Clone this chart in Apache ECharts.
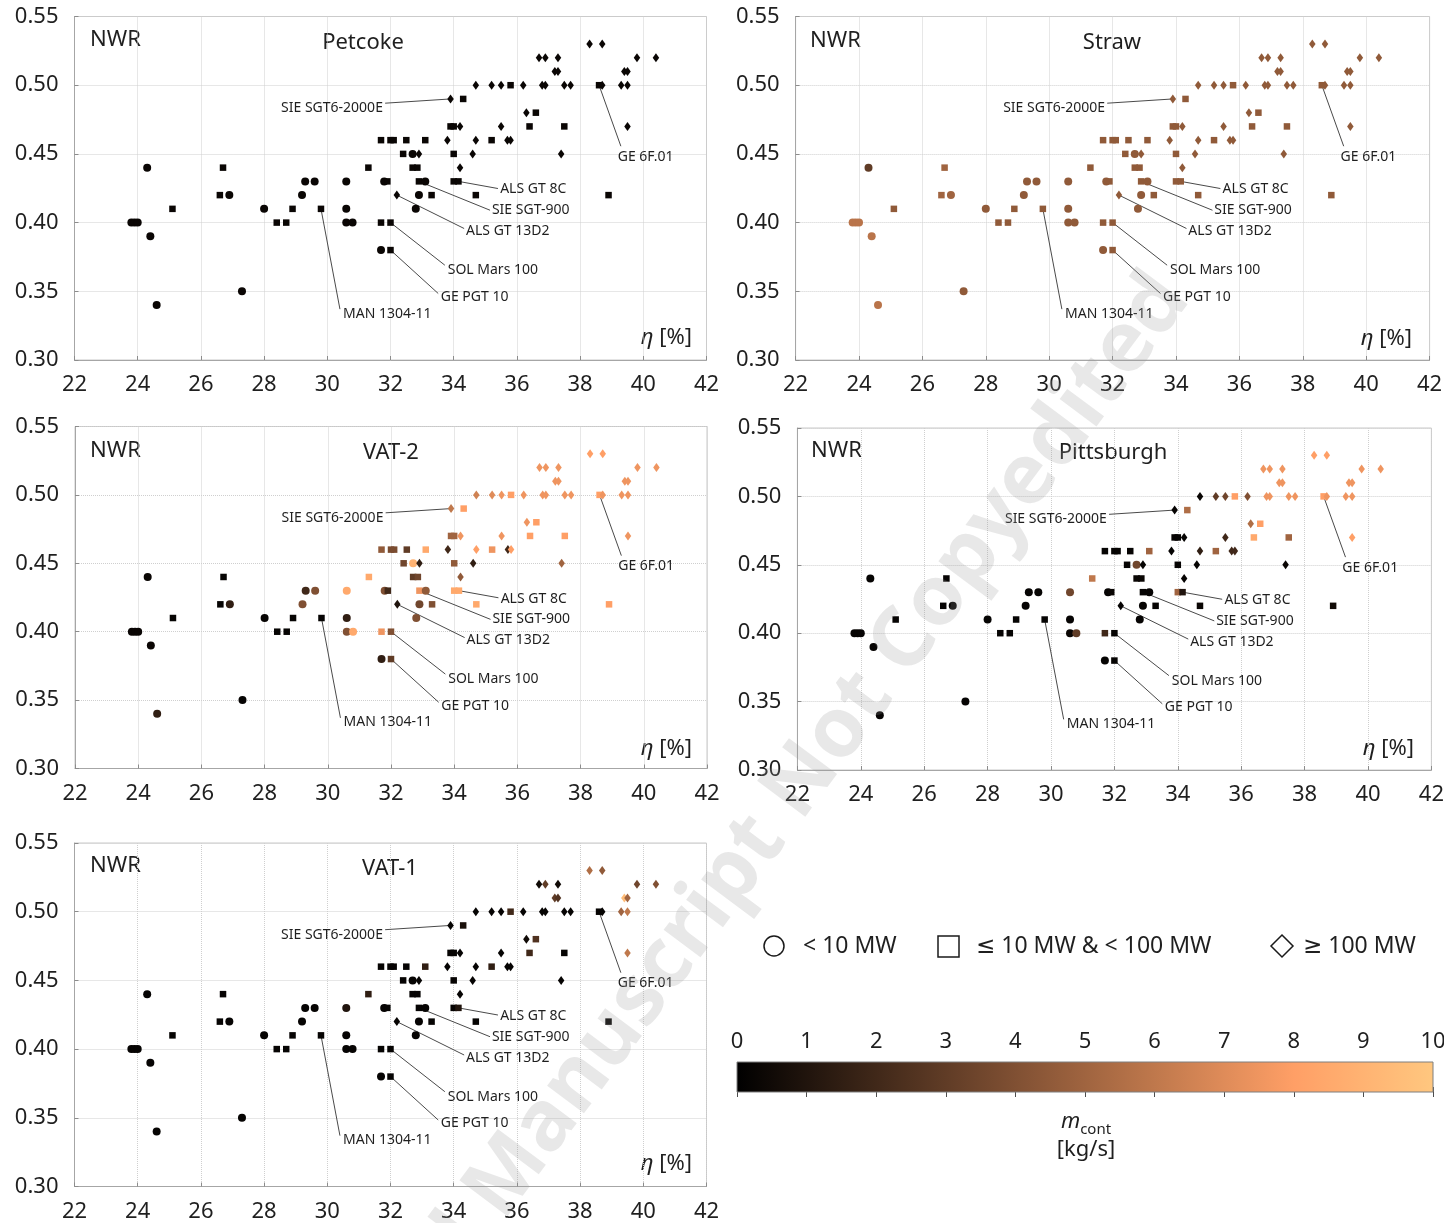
<!DOCTYPE html>
<html>
<head>
<meta charset="utf-8">
<script src="https://cdn.jsdelivr.net/npm/echarts@6/dist/echarts.min.js"></script>
<style>html,body{margin:0;padding:0;background:#fff}#main{width:1444px;height:1223px}</style>
</head>
<body>
<div id="main"></div>
<script>
// ---------------- DATA ----------------
const panelNames = ['Petcoke', 'Straw', 'VAT-2', 'Pittsburgh', 'VAT-1'];
const xTicks = [22, 24, 26, 28, 30, 32, 34, 36, 38, 40, 42];
const yTicks = [0.30, 0.35, 0.40, 0.45, 0.50, 0.55];
const colorbarTicks = [0, 1, 2, 3, 4, 5, 6, 7, 8, 9, 10];

// efficiency eta [%]
const eta = [23.8,23.9,24.0,24.3,24.4,24.6,25.1,26.7,26.6,26.9,
  27.3,28.0,28.4,28.7,28.9,29.2,29.3,29.6,29.8,30.6,
  30.6,30.6,30.8,31.3,31.7,32.0,32.1,32.5,33.1,31.8,
  31.9,32.2,31.7,32.0,31.7,32.0,32.4,32.7,32.9,32.7,
  32.85,32.9,33.1,32.9,33.3,32.8,33.8,33.9,34.0,34.2,
  33.9,34.3,34.0,34.2,34.0,34.15,34.7,34.6,34.7,35.2,
  35.7,35.8,35.5,36.4,36.3,36.6,37.5,37.4,38.9,39.5,
  34.7,35.2,35.5,35.8,36.2,36.8,36.9,37.5,37.7,38.6,
  38.7,39.3,39.5,37.2,37.3,39.4,39.5,36.7,36.9,37.3,
  39.8,40.4,38.3,38.7];
// NWR
const nwr = [0.40,0.40,0.40,0.44,0.39,0.34,0.41,0.44,0.42,0.42,
  0.35,0.41,0.40,0.40,0.41,0.42,0.43,0.43,0.41,0.43,
  0.41,0.40,0.40,0.44,0.46,0.46,0.46,0.46,0.46,0.43,
  0.43,0.42,0.40,0.40,0.38,0.38,0.45,0.45,0.45,0.44,
  0.44,0.43,0.43,0.42,0.42,0.41,0.46,0.47,0.47,0.47,
  0.49,0.49,0.45,0.44,0.43,0.43,0.42,0.45,0.46,0.46,
  0.46,0.46,0.47,0.47,0.48,0.48,0.47,0.45,0.42,0.47,
  0.50,0.50,0.50,0.50,0.50,0.50,0.50,0.50,0.50,0.50,
  0.50,0.50,0.50,0.51,0.51,0.51,0.51,0.52,0.52,0.52,
  0.52,0.52,0.53,0.53];
// power class: S = < 10 MW, M = 10..100 MW, L = >= 100 MW
const sizeClass = ['S','S','S','S','S','S','M','M','M','S',
  'S','S','M','M','M','S','S','S','M','S',
  'S','S','S','M','M','M','M','M','M','S',
  'M','L','M','M','S','M','M','S','L','M',
  'M','M','S','S','M','S','L','M','M','L',
  'L','M','M','L','M','M','M','L','L','M',
  'L','L','L','M','L','M','M','L','M','L',
  'L','L','L','M','L','L','L','L','L','M',
  'L','L','L','L','L','L','L','L','L','L',
  'L','L','L','L'];

// m_cont [kg/s] for each fuel
const mPetcoke = [0.3,0.3,0.3,0.3,0.3,0.3,0.3,0.3,0.3,0.3,
  0.3,0.3,0.3,0.3,0.3,0.3,0.3,0.3,0.3,0.3,
  0.3,0.3,0.3,0.3,0.3,0.3,0.3,0.3,0.3,0.3,
  0.3,0.3,0.3,0.3,0.3,0.3,0.3,0.3,0.3,0.3,
  0.3,0.3,0.3,0.3,0.3,0.3,0.3,0.3,0.3,0.3,
  0.3,0.3,0.3,0.3,0.3,0.3,0.3,0.3,0.3,0.3,
  0.3,0.3,0.3,0.3,0.3,0.3,0.3,0.3,0.3,0.3,
  0.3,0.3,0.3,0.3,0.3,0.3,0.3,0.3,0.3,0.3,
  0.3,0.3,0.3,0.3,0.3,0.3,0.3,0.3,0.3,0.3,
  0.3,0.3,0.3,0.3];
const mStraw = [5.8,5.8,5.8,3.0,5.8,5.8,4.5,5.0,5.0,5.0,
  4.5,4.5,4.5,4.5,4.5,4.5,4.5,4.5,4.5,4.5,
  4.5,4.5,4.5,4.5,4.5,4.5,4.5,4.5,4.5,4.5,
  4.5,4.5,4.5,4.5,4.5,4.5,4.5,4.5,4.5,4.5,
  4.5,4.5,4.5,4.5,4.5,4.5,4.5,4.5,4.5,4.5,
  4.5,4.5,4.5,4.5,4.5,4.5,4.5,4.5,4.5,4.5,
  4.5,4.5,4.5,4.5,4.5,4.5,4.5,4.5,4.5,4.5,
  4.5,4.5,4.5,4.5,4.5,4.5,4.5,4.5,4.5,4.5,
  4.5,4.5,4.5,4.5,4.5,4.5,4.5,4.5,4.5,4.5,
  4.5,4.5,4.5,4.5];
const mVAT2 = [0.3,0.3,0.3,0.3,0.3,1.5,0.2,0.2,0.2,1.5,
  0.2,0.2,0.2,0.2,0.2,4.0,2.0,4.0,0.2,8.5,
  1.5,4.0,8.5,8.5,4.5,3.8,3.8,3.0,8.5,4.0,
  2.0,1.0,7.5,4.0,1.5,3.0,3.5,9.0,1.5,3.0,
  3.5,7.5,4.5,3.5,4.0,4.0,2.0,5.0,5.0,7.5,
  6.0,8.0,4.5,4.5,8.5,8.5,8.5,1.5,8.0,7.5,
  2.0,8.0,7.5,8.0,7.5,8.0,8.0,5.0,8.0,7.5,
  6.5,7.0,7.5,8.0,7.5,7.5,7.5,7.5,7.5,8.0,
  7.5,7.5,7.5,7.5,7.5,7.5,7.5,7.5,7.5,7.5,
  7.5,7.5,8.0,8.0];
const mPittsburgh = [0.2,0.2,0.2,0.2,0.2,0.2,0.2,0.2,0.2,0.2,
  0.2,0.2,0.2,0.2,0.2,0.2,0.2,0.2,0.2,3.5,
  0.2,0.3,3.0,6.0,0.2,0.2,0.2,0.2,5.0,0.2,
  0.3,0.2,2.0,0.2,0.2,0.2,0.2,3.5,0.2,0.3,
  0.3,0.2,0.2,0.2,0.2,0.2,0.2,0.2,0.2,0.2,
  0.2,5.5,0.2,0.2,5.0,1.0,0.3,0.2,1.5,5.0,
  2.0,2.0,2.0,8.5,5.5,8.0,5.0,0.3,0.5,8.0,
  0.3,3.0,3.5,8.0,4.0,7.5,7.5,7.5,7.5,8.0,
  7.5,7.5,7.5,7.5,7.5,7.5,7.5,7.5,7.5,7.5,
  7.5,7.5,8.0,8.0];
const mVAT1 = [0.2,0.2,0.2,0.2,0.2,0.2,0.2,0.2,0.2,0.2,
  0.2,0.2,0.2,0.2,0.2,0.2,0.2,0.2,0.2,1.0,
  0.2,0.2,0.2,1.5,0.2,0.2,0.2,0.2,1.5,0.2,
  0.2,0.2,0.2,0.2,0.2,0.2,0.2,0.2,0.2,0.2,
  0.2,0.2,0.2,0.2,0.2,0.2,0.2,0.2,0.2,0.2,
  0.2,0.8,0.2,0.2,0.2,1.0,0.2,0.2,0.2,1.5,
  0.2,0.2,0.2,2.0,0.5,2.5,0.2,0.2,0.2,6.0,
  0.2,0.2,0.2,2.0,0.2,0.2,0.2,0.2,0.2,0.2,
  0.2,5.0,6.0,3.0,2.5,9.5,5.0,0.5,3.0,0.5,
  3.5,4.0,5.5,4.5];
const mByPanel = [mPetcoke, mStraw, mVAT2, mPittsburgh, mVAT1];

// labelled turbines (index into the point arrays) and label anchors in data units
const annNames = ['SIE SGT6-2000E', 'GE 6F.01', 'ALS GT 8C', 'SIE SGT-900', 'ALS GT 13D2', 'SOL Mars 100', 'GE PGT 10', 'MAN 1304-11'];
const annPoint = [50, 79, 55, 41, 31, 33, 35, 18];
const annEndX  = [31.83, 39.29, 35.40, 35.15, 34.33, 33.72, 33.51, 30.40];
const annEndY  = [0.4869, 0.4556, 0.4248, 0.4090, 0.3957, 0.3690, 0.3484, 0.3370];
const annTextX = [31.76, 39.19, 35.47, 35.21, 34.39, 33.81, 33.59, 30.50];
const annTextY = [0.4833, 0.4478, 0.4241, 0.4090, 0.3937, 0.3654, 0.3460, 0.3338];
const annAlign = ['right', 'left', 'left', 'left', 'left', 'left', 'left', 'left'];

const legendLabels = ['< 10 MW', '\u2264 10 MW & < 100 MW', '\u2265 100 MW'];

// ---------------- STYLE / LAYOUT ----------------
const FONT = '"Noto Sans", "DejaVu Sans", sans-serif';
const TXT = '#1f1f1f';
const copperColors = ['#000000', '#402819', '#805033', '#bf784c', '#ff9f66', '#ffc77f'];
const symbolFor = { S: 'circle', M: 'rect', L: 'diamond' };
const sizeFor = { S: 8, M: 6.5, L: [6.5, 9] };

const grids = [
  { left: 74.5, top: 16.5, width: 632, height: 343.5 },
  { left: 795.6, top: 16.5, width: 634, height: 343.5 },
  { left: 75, top: 426.5, width: 632, height: 342 },
  { left: 797.4, top: 428, width: 634, height: 342 },
  { left: 74.5, top: 843, width: 632, height: 343.5 }
];
const panelText = [
  { nwr: [90, 40], title: [363, 43], eta: [692, 338] },
  { nwr: [810, 41], title: [1112, 43], eta: [1412, 339] },
  { nwr: [90, 451], title: [391, 453], eta: [692, 749] },
  { nwr: [811, 451], title: [1113, 453], eta: [1414, 749] },
  { nwr: [90, 866], title: [390, 869], eta: [692, 1164] }
];

const gridOpts = grids.map(g => Object.assign({ show: true, borderColor: '#c8c8c8', borderWidth: 1, backgroundColor: 'transparent', containLabel: false, outerBoundsMode: 'none' }, g));
gridOpts.push({ left: 737, top: 1062, width: 696, height: 30, show: false, containLabel: false, outerBoundsMode: 'none' });

const xAxes = grids.map((g, i) => ({
  type: 'value', gridIndex: i, min: xTicks[0], max: xTicks[xTicks.length - 1], interval: xTicks[1] - xTicks[0],
  axisLine: { show: true, onZero: false, lineStyle: { color: '#a6a6a6', width: 1 } },
  axisTick: { show: true, inside: true, length: 4, lineStyle: { color: '#8c8c8c' } },
  axisLabel: { show: true, margin: 14, fontSize: 22, fontFamily: FONT, color: TXT },
  splitLine: { show: true, lineStyle: { color: '#cfcfcf', type: 'dotted', width: 1 } }
}));
const yAxes = grids.map((g, i) => ({
  type: 'value', gridIndex: i, min: yTicks[0], max: yTicks[yTicks.length - 1], interval: 0.05,
  axisLine: { show: true, onZero: false, lineStyle: { color: '#a6a6a6', width: 1 } },
  axisTick: { show: true, inside: true, length: 4, lineStyle: { color: '#8c8c8c' } },
  axisLabel: { show: true, margin: 16, fontSize: 22, fontFamily: FONT, color: TXT, padding: [6, 0, 0, 0], formatter: v => v.toFixed(2) },
  splitLine: { show: true, lineStyle: { color: '#cfcfcf', type: 'dotted', width: 1 } }
}));
// colorbar axes
xAxes.push({
  type: 'value', gridIndex: 5, position: 'top', min: colorbarTicks[0], max: colorbarTicks[colorbarTicks.length - 1], interval: 1,
  axisLine: { show: false }, axisTick: { show: true, inside: true, length: 5, lineStyle: { color: '#4d4d4d' } },
  axisLabel: { show: true, margin: 9, fontSize: 22, fontFamily: FONT, color: TXT }, splitLine: { show: false }
});
xAxes.push({
  type: 'value', gridIndex: 5, position: 'bottom', min: 0, max: 10, interval: 1,
  axisLine: { show: false }, axisTick: { show: true, inside: true, length: 5, lineStyle: { color: '#4d4d4d' } },
  axisLabel: { show: false }, splitLine: { show: false }
});
yAxes.push({ type: 'value', gridIndex: 5, min: 0, max: 1, show: false });

const series = [];
mByPanel.forEach((mArr, gi) => {
  series.push({
    type: 'scatter', name: panelNames[gi], xAxisIndex: gi, yAxisIndex: gi, z: 5,
    data: eta.map((x, i) => ({
      value: [x, nwr[i], mArr[i]],
      symbol: symbolFor[sizeClass[i]],
      symbolSize: sizeFor[sizeClass[i]]
    })),
    itemStyle: { opacity: 1 },
    emphasis: { disabled: true }
  });
});
mByPanel.forEach((mArr, gi) => {
  series.push({
    type: 'custom', xAxisIndex: gi, yAxisIndex: gi, z: 3, silent: true,
    data: annNames.map((n, k) => [eta[annPoint[k]], nwr[annPoint[k]], annEndX[k], annEndY[k], annTextX[k], annTextY[k]]),
    renderItem: function (params, api) {
      const p = api.coord([api.value(0), api.value(1)]);
      const e = api.coord([api.value(2), api.value(3)]);
      const t = api.coord([api.value(4), api.value(5)]);
      const k = params.dataIndex;
      return {
        type: 'group', children: [
          { type: 'line', shape: { x1: p[0], y1: p[1], x2: e[0], y2: e[1] }, style: { stroke: '#4a4a4a', lineWidth: 1 } },
          { type: 'text', x: t[0], y: t[1], style: { text: annNames[k], align: annAlign[k], verticalAlign: 'middle', font: '14px ' + FONT, fill: TXT } }
        ]
      };
    }
  });
});
// colorbar
series.push({
  type: 'custom', xAxisIndex: 5, yAxisIndex: 5, silent: true, z: 2,
  data: [[colorbarTicks[0], colorbarTicks[colorbarTicks.length - 1]]],
  renderItem: function (params, api) {
    const a = api.coord([api.value(0), 1]);
    const b = api.coord([api.value(1), 0]);
    const stops = copperColors.map((c, i) => ({ offset: i / (copperColors.length - 1), color: c }));
    return {
      type: 'rect', shape: { x: a[0], y: a[1], width: b[0] - a[0], height: b[1] - a[1] },
      style: { fill: new echarts.graphic.LinearGradient(0, 0, 1, 0, stops), stroke: '#7f7f7f', lineWidth: 1 },
      z2: -1
    };
  }
});

const graphics = [];
panelText.forEach((pt, i) => {
  graphics.push({ type: 'text', x: pt.nwr[0], y: pt.nwr[1], style: { text: 'NWR', font: '22px ' + FONT, fill: TXT, align: 'left', verticalAlign: 'middle' } });
  graphics.push({ type: 'text', x: pt.title[0], y: pt.title[1], style: { text: panelNames[i], font: '22px ' + FONT, fill: TXT, align: 'center', verticalAlign: 'middle' } });
  graphics.push({ type: 'text', x: pt.eta[0], y: pt.eta[1], style: {
    text: '{i|\u03b7} [%]', font: '22px ' + FONT, fill: TXT, align: 'right', verticalAlign: 'middle',
    rich: { i: { fontStyle: 'italic', fontSize: 22, fontFamily: FONT, fill: TXT } } } });
});
// legend for power classes
graphics.push({ type: 'circle', shape: { cx: 774, cy: 946, r: 10 }, style: { fill: '#fff', stroke: '#1a1a1a', lineWidth: 1.5 } });
graphics.push({ type: 'text', x: 803, y: 946, style: { text: legendLabels[0], font: '23px ' + FONT, fill: TXT, verticalAlign: 'middle' } });
graphics.push({ type: 'rect', shape: { x: 938, y: 936, width: 21, height: 21 }, style: { fill: '#fff', stroke: '#1a1a1a', lineWidth: 1.5 } });
graphics.push({ type: 'text', x: 976, y: 946, style: { text: legendLabels[1], font: '23px ' + FONT, fill: TXT, verticalAlign: 'middle' } });
graphics.push({ type: 'polygon', shape: { points: [[1282, 935], [1293, 946], [1282, 957], [1271, 946]] }, style: { fill: '#fff', stroke: '#1a1a1a', lineWidth: 1.5 } });
graphics.push({ type: 'text', x: 1303, y: 946, style: { text: legendLabels[2], font: '23px ' + FONT, fill: TXT, verticalAlign: 'middle' } });
// colorbar title
graphics.push({ type: 'text', x: 1086, y: 1122, style: {
  text: '{i|m}{s|cont}', align: 'center', verticalAlign: 'middle', fill: TXT,
  rich: { i: { fontStyle: 'italic', fontSize: 22, fontFamily: FONT, fill: TXT, verticalAlign: 'bottom' },
          s: { fontSize: 15, fontFamily: FONT, fill: TXT, verticalAlign: 'bottom', padding: [0, 0, -4, 0] } } } });
graphics.push({ type: 'text', x: 1086, y: 1150, style: { text: '[kg/s]', font: '22px ' + FONT, fill: TXT, align: 'center', verticalAlign: 'middle' } });
// watermark
graphics.push({ type: 'text', x: 1172, y: 285, rotation: 0.93, z: 100, silent: true, style: {
  text: 'Accepted Manuscript Not Copyedited', font: 'bold 84px ' + FONT, fill: 'rgba(150,150,150,0.22)', align: 'right', verticalAlign: 'middle' } });

const chart = echarts.init(document.getElementById('main'), null, { renderer: 'canvas' });
chart.setOption({
  animation: false,
  backgroundColor: '#ffffff',
  grid: gridOpts,
  xAxis: xAxes,
  yAxis: yAxes,
  visualMap: {
    type: 'continuous', show: false, min: 0, max: 10, dimension: 2,
    seriesIndex: [0, 1, 2, 3, 4], inRange: { color: copperColors }
  },
  series: series,
  graphic: { elements: graphics }
});
</script>
</body>
</html>
